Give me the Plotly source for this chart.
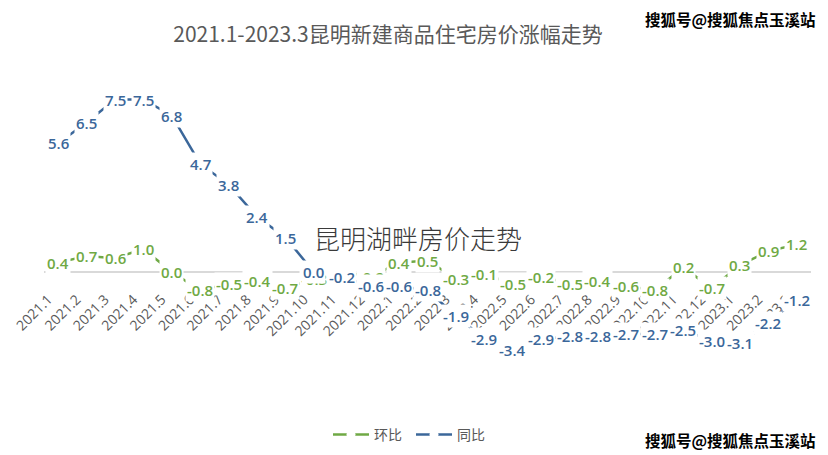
import plotly.graph_objects as go

months = ["2021.1", "2021.2", "2021.3", "2021.4", "2021.5", "2021.6", "2021.7", "2021.8", "2021.9",
          "2021.10", "2021.11", "2021.12", "2022.1", "2022.2", "2022.3", "2022.4", "2022.5", "2022.6",
          "2022.7", "2022.8", "2022.9", "2022.10", "2022.11", "2022.12", "2023.1", "2023.2", "2023.3"]
mom = [0.4, 0.7, 0.6, 1.0, 0.0, -0.8, -0.5, -0.4, -0.7, -0.3, 0.0, -0.2, 0.4, 0.5, -0.3, -0.1,
       -0.5, -0.2, -0.5, -0.4, -0.6, -0.8, 0.2, -0.7, 0.3, 0.9, 1.2]
yoy = [5.6, 6.5, 7.5, 7.5, 6.8, 4.7, 3.8, 2.4, 1.5, 0.0, -0.2, -0.6, -0.6, -0.8, -1.9, -2.9,
       -3.4, -2.9, -2.8, -2.8, -2.7, -2.7, -2.5, -3.0, -3.1, -2.2, -1.2]

title = "2021.1-2023.3昆明新建商品住宅房价涨幅走势"
overlay = "昆明湖畔房价走势"
watermark = "搜狐号@搜狐焦点玉溪站"

GREEN = "#6FA944"
BLUE = "#3B679A"
GRAY = "#595959"
YMIN, YMAX = -4, 8

# page body adds an 8px offset; the figure is sized to fill the rest of the window
OFF = 8
W, H = 828 - OFF, 455 - OFF
PL, PR, PT, PB = 44, 811, 88, 364          # plot box in window pixels
PW, PH = PR - PL, PB - PT


def px(X):
    return (X - PL) / PW


def py(Y):
    return (PB - Y) / PH


fig = go.Figure()
for name, vals, col in [("环比", mom, GREEN), ("同比", yoy, BLUE)]:
    fig.add_trace(go.Scatter(
        x=months, y=vals, name=name, mode="lines+markers",
        line=dict(color=col, width=2.5),
        marker=dict(color="white", size=9),
        hoverinfo="skip",
    ))

annotations = []
for vals, col in [(mom, GREEN), (yoy, BLUE)]:
    for i, v in enumerate(vals):
        annotations.append(dict(
            x=i, y=v, xref="x", yref="y", text=f"{v:.1f}", showarrow=False,
            xanchor="center", yanchor="middle",
            bgcolor="white", borderpad=1,
            font=dict(family="Open Sans, DejaVu Sans", size=15, color=col, weight=600),
        ))

annotations.append(dict(
    x=px(418), y=py(237), xref="paper", yref="paper",
    xanchor="center", yanchor="middle",
    text=overlay, showarrow=False,
    font=dict(family="Noto Sans CJK SC", size=26, color="#3A3A3A", weight=300),
))
for yy in [py(19), py(440)]:
    annotations.append(dict(
        x=px(818), y=yy, xref="paper", yref="paper",
        xanchor="right", yanchor="middle",
        text="<b>" + watermark + "</b>", showarrow=False,
        font=dict(family="Noto Sans CJK SC", size=15.5, color="black"),
    ))

fig.update_layout(
    width=W, height=H,
    margin=dict(l=PL - OFF, r=828 - PR, t=PT - OFF, b=455 - PB, autoexpand=False),
    paper_bgcolor="white", plot_bgcolor="white",
    title=dict(text=title, x=(388 - OFF) / W, xref="container", xanchor="center",
               y=1 - (35 - OFF) / H, yref="container", yanchor="middle",
               font=dict(family="Noto Sans CJK SC", size=21, color=GRAY)),
    xaxis=dict(type="category", range=[-0.5, len(months) - 0.5],
               anchor="free", position=(0 - YMIN) / (YMAX - YMIN), automargin=False,
               showline=True, linecolor="#D9D9D9", linewidth=1.5,
               showgrid=False, zeroline=False, ticks="",
               tickangle=-45, ticklabelstandoff=13, ticklabelshift=-10,
               tickfont=dict(family="Open Sans, Noto Sans", size=14, color=GRAY)),
    yaxis=dict(range=[YMIN, YMAX], visible=False, showgrid=False, zeroline=False,
               automargin=False),
    legend=dict(orientation="h", x=px(328), xanchor="left",
                y=py(435), yanchor="middle",
                font=dict(family="Noto Sans CJK SC", size=14, color=GRAY),
                itemwidth=36, entrywidth=32, entrywidthmode="pixels"),
    annotations=annotations,
    showlegend=True,
)

fig.write_html("out.html")
